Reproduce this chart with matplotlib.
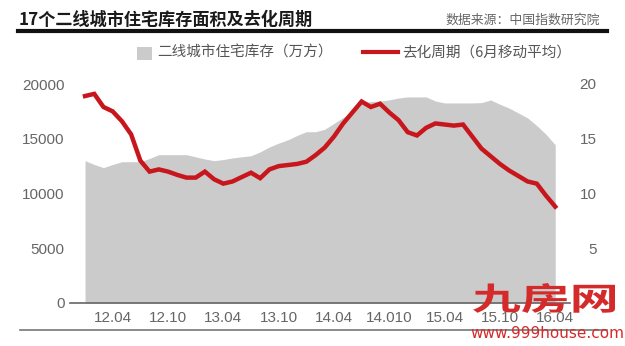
import matplotlib
matplotlib.use("Agg")
import matplotlib.pyplot as plt
from matplotlib.font_manager import FontProperties
from matplotlib.lines import Line2D
from matplotlib.patches import PathPatch, Rectangle
from matplotlib.textpath import TextPath
from matplotlib.transforms import Affine2D, IdentityTransform

plt.rcParams["font.family"] = ["Noto Sans CJK SC", "DejaVu Sans"]

# monthly data, 2012.01 - 2016.04
inventory = [
    13000, 12650, 12360, 12650, 12900, 12900, 12900, 13200, 13545, 13545,
    13545, 13545, 13350, 13150, 13000, 13100, 13250, 13350, 13450, 13800,
    14250, 14600, 14900, 15300, 15640, 15640, 15870, 16400, 16950, 17450,
    18250, 18400, 18430, 18550, 18720, 18820, 18820, 18820, 18450, 18270,
    18270, 18270, 18270, 18300, 18540, 18150, 17800, 17350, 16900, 16200,
    15400, 14450,
]
cycle = [
    18.9, 19.1, 17.9, 17.5, 16.6, 15.4, 13.0, 12.0, 12.2, 12.0,
    11.7, 11.45, 11.45, 12.0, 11.3, 10.9, 11.1, 11.5, 11.9, 11.4,
    12.2, 12.5, 12.6, 12.7, 12.9, 13.5, 14.2, 15.2, 16.4, 17.4,
    18.4, 17.9, 18.2, 17.4, 16.7, 15.6, 15.3, 16.0, 16.4, 16.3,
    16.2, 16.3, 15.2, 14.1, 13.4, 12.7, 12.1, 11.6, 11.1, 10.9,
    9.8, 8.8,
]
tick_idx = [3, 9, 15, 21, 27, 33, 39, 45, 51]
tick_labels = ["12.04", "12.10", "13.04", "13.10", "14.04", "14.010",
               "15.04", "15.10", "16.04"]

W, H = 625, 346
fig = plt.figure(figsize=(W / 100, H / 100), dpi=100)


def fx(x):
    return x / W


def fy(y):
    return 1 - y / H


ax = fig.add_axes([fx(70), fy(303), (570 - 70) / W, (303 - 84) / H])
ax2 = ax.twinx()

x = list(range(len(inventory)))
ax.fill_between(x, inventory, 0, color="#cbcbcb", lw=0)
ax2.plot(x, cycle, color="#c8161d", lw=3.2, solid_joinstyle="miter", clip_on=False)

ax.set_xlim(-1.63, 52.6)
ax.set_ylim(0, 20000)
ax2.set_ylim(0, 20)
ax.set_yticks([0, 5000, 10000, 15000, 20000])
ax2.set_yticks([5, 10, 15, 20])
ax.set_xticks(tick_idx)
ax.set_xticklabels(tick_labels)

for a in (ax, ax2):
    for s in a.spines.values():
        s.set_visible(False)
ax.spines["bottom"].set_visible(True)
ax.spines["bottom"].set_color("#666666")
ax.spines["bottom"].set_linewidth(1.2)

ax.tick_params(axis="y", length=0, pad=4, labelsize=11, labelcolor="#666666")
ax.tick_params(axis="x", length=0, pad=6, labelsize=11, labelcolor="#666666")
ax2.tick_params(axis="y", length=0, pad=19, labelsize=11, labelcolor="#666666")
for lab in ax.get_xticklabels() + ax.get_yticklabels() + ax2.get_yticklabels():
    lab.set_family("Liberation Sans")
for lab in ax2.get_yticklabels():
    lab.set_horizontalalignment("right")

# title, source and rules
fig.text(fx(19), fy(19.5), "17个二线城市住宅库存面积及去化周期", fontsize=12.3,
         color="#1a1a1a", va="center", ha="left", fontweight="bold")
fig.text(fx(600), fy(20), "数据来源：中国指数研究院", fontsize=9.3,
         color="#666666", va="center", ha="right")
fig.add_artist(Line2D([fx(18), fx(607)], [fy(31), fy(31)], color="#111111", lw=3))
fig.add_artist(Line2D([fx(20), fx(607)], [fy(330), fy(330)], color="#777777", lw=1.2))

# legend
fig.add_artist(Rectangle((fx(137), fy(60)), 15 / W, 13 / H, color="#cbcbcb", lw=0))
fig.text(fx(157), fy(53), "二线城市住宅库存（万方）", fontsize=10.5, color="#555555",
         va="center", ha="left")
fig.add_artist(Line2D([fx(363), fx(398)], [fy(52), fy(52)], color="#c8161d", lw=3))
fig.text(fx(402), fy(53), "去化周期（6月移动平均）", fontsize=10.5, color="#555555",
         va="center", ha="left")

# watermark: wide, flattened logo text
tp = TextPath((0, 0), "九房网", size=1,
              prop=FontProperties(family="Noto Sans CJK SC", weight="bold"))
ext = tp.get_extents()
sx = (615 - 473) / ext.width
sy = (313 - 283) / ext.height
tr = Affine2D().translate(-ext.x0, -ext.y0).scale(sx, sy).translate(473, H - 313)
fig.add_artist(PathPatch(tp, transform=tr + IdentityTransform(),
                         color="#d42a2a", lw=0))
fig.text(fx(547), fy(334), "www.999house.com", fontsize=11, color="#d42a2a",
         va="center", ha="center", family="DejaVu Sans")

fig.savefig("out.png", dpi=100)
